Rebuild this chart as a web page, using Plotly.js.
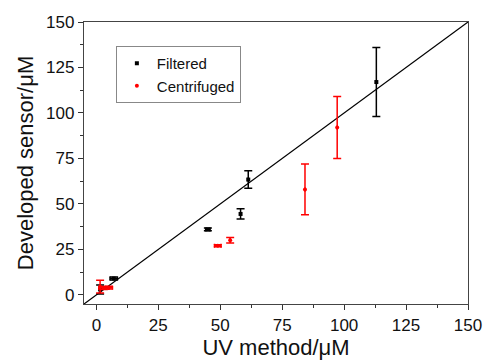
<!DOCTYPE html>
<html><head><meta charset="utf-8">
<script src="https://cdn.plot.ly/plotly-3.0.1.min.js"></script>
<style>html,body{margin:0;padding:0;background:#fff}#c{width:486px;height:362px}</style>
</head><body><div id="c"></div>
<script>
// Filtered series
const filtX  = [1.5, 7, 45, 58.2, 61.3, 113];
const filtY  = [3, 9, 36, 44.5, 63.4, 117];
const filtEx = [0, 1.5, 0.9, 0, 0, 0];
const filtEy = [2.5, 0.8, 0.8, 2.8, 4.8, 19];
// Centrifuged series
const cenX  = [1.5, 3, 5, 49, 54, 84.2, 97.2];
const cenY  = [4.5, 3.8, 4, 27, 30, 58, 92];
const cenEx = [0, 2, 1.5, 1.3, 0, 0, 0];
const cenEy = [3.5, 0.8, 0.8, 0.5, 1.5, 14, 17];
// Reference line y = x
const lineXY = [-5, 150];
const ticks = [0, 25, 50, 75, 100, 125, 150];

const traces = [
  {x: lineXY, y: lineXY, mode: 'lines', line: {color: '#000', width: 1.2}, showlegend: false, hoverinfo: 'skip'},
  {x: filtX, y: filtY, name: 'Filtered', mode: 'markers', type: 'scatter',
   marker: {color: '#000', size: 4, symbol: 'square'},
   error_y: {type: 'data', array: filtEy, visible: true, color: '#000', thickness: 1.5, width: 4},
   error_x: {type: 'data', array: filtEx, visible: true, color: '#000', thickness: 1.5, width: 2}},
  {x: cenX, y: cenY, name: 'Centrifuged', mode: 'markers', type: 'scatter',
   marker: {color: '#ff0000', size: 4, symbol: 'circle'},
   error_y: {type: 'data', array: cenEy, visible: true, color: '#ff0000', thickness: 1.5, width: 4},
   error_x: {type: 'data', array: cenEx, visible: true, color: '#ff0000', thickness: 1.5, width: 2}}
];

const axisCommon = {
  range: [-5, 150], tickvals: ticks, ticktext: ticks.map(String),
  ticks: 'outside', ticklen: 5, tickwidth: 1, tickcolor: '#333',
  minor: {ticks: 'outside', ticklen: 3, tickcolor: '#333', dtick: 12.5, tick0: 0},
  showline: true, linecolor: '#444', linewidth: 1.2, mirror: true,
  showgrid: false, zeroline: false,
  tickfont: {family: 'Liberation Sans, Arial', size: 17, color: '#111'}
};

const layout = {
  width: 486, height: 362,
  margin: {l: 84, r: 18, t: 22, b: 58},
  paper_bgcolor: '#fff', plot_bgcolor: '#fff',
  font: {family: 'Liberation Sans, Arial', color: '#111'},
  xaxis: Object.assign({}, axisCommon, {title: {text: 'UV method/μM', font: {size: 22}, standoff: 4}}),
  yaxis: Object.assign({}, axisCommon, {title: {text: 'Developed sensor/μM', font: {size: 22}, standoff: 6}}),
  legend: {x: 0.083, y: 0.915, xanchor: 'left', yanchor: 'top',
           bordercolor: '#888', borderwidth: 1, bgcolor: '#fff',
           font: {size: 15, family: 'Liberation Sans, Arial'}, itemwidth: 30, tracegroupgap: 0},
  showlegend: true
};

Plotly.newPlot('c', traces, layout, {displayModeBar: false, staticPlot: true});
</script>
</body></html>
